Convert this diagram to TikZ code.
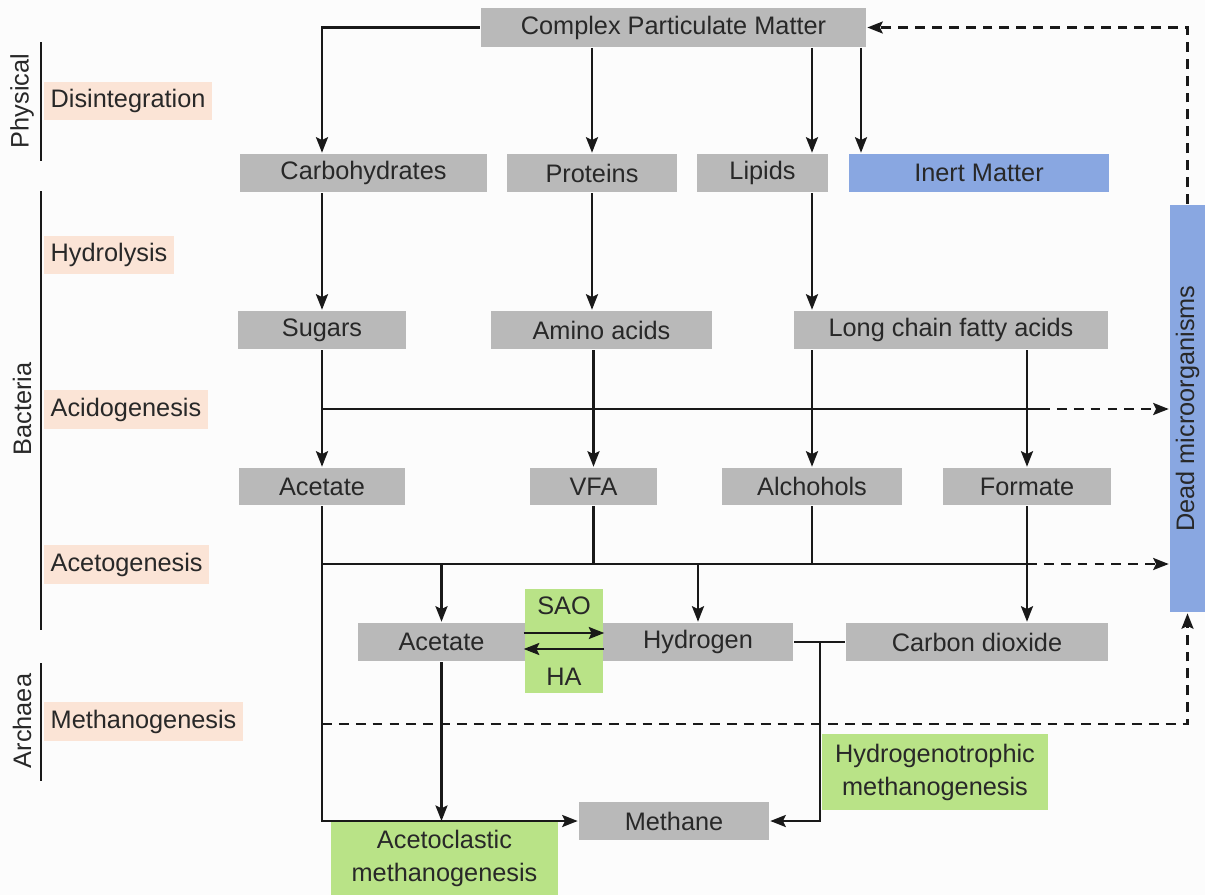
\documentclass[tikz,border=0pt]{standalone}
\usepackage[svgnames, dvipsnames]{xcolor}
\usepackage{fontspec}
\setmainfont{Liberation Sans}
\usetikzlibrary{calc, arrows.meta, positioning}

\definecolor{pagewhite}{RGB}{252,252,252}
\definecolor{boxgray}{RGB}{185,185,185}
\definecolor{inertblue}{RGB}{137,167,225}
\definecolor{stagepink}{RGB}{251,228,214}
\definecolor{routegreen}{RGB}{185,227,135}
\definecolor{inktext}{RGB}{40,40,40}

\begin{document}
\begin{tikzpicture}[x=0.025cm, y=-0.025cm, line width=1.8pt, draw=black!90,
  every node/.style={font=\fontsize{18}{23.5}\selectfont, text=inktext},
  box/.style={fill=boxgray, minimum height=0.95cm, inner sep=0pt},
  route/.style={fill=routegreen, align=center, inner sep=0pt},
  stage/.style={fill=stagepink, anchor=west, inner xsep=0.16cm, minimum height=0.97cm},
  group/.style={rotate=90},
  arr/.style={-{Stealth[length=11pt,width=8.5pt,inset=2pt]}},
  dashline/.style={dashed, dash pattern=on 7pt off 5pt}]
\fill[pagewhite] (0,0) rectangle (1205,895);
\useasboundingbox (0,0) rectangle (1205,895);

\node[box, minimum width=9.625cm] (cpm) at (673.5,27.5) {Complex Particulate Matter};
\node[box, minimum width=6.175cm] (carb) at (363.5,173) {Carbohydrates};
\node[box, minimum width=4.25cm] (prot) at (592,173) {Proteins};
\node[box, minimum width=3.275cm] (lip) at (762.5,173) {Lipids};
\node[box, fill=inertblue, minimum width=6.5cm] (inert) at (979,173) {Inert Matter};
\node[box, fill=inertblue, minimum width=0.875cm, minimum height=10.175cm] (dead) at (1187.5,408.5) {\rotatebox{90}{Dead microorganisms}};
\node[box, minimum width=4.2cm] (sug) at (322,330) {Sugars};
\node[box, minimum width=5.525cm] (amino) at (601.5,330) {Amino acids};
\node[box, minimum width=7.85cm] (lcfa) at (951,330) {Long chain fatty acids};
\node[box, minimum width=4.15cm, minimum height=0.925cm] (acet) at (322,486.5) {Acetate};
\node[box, minimum width=3.175cm, minimum height=0.925cm] (vfa) at (593.5,486.5) {VFA};
\node[box, minimum width=4.5cm, minimum height=0.925cm] (alc) at (812,486.5) {Alchohols};
\node[box, minimum width=4.175cm, minimum height=0.925cm] (form) at (1027,486.5) {Formate};
\node[route, minimum width=1.95cm, minimum height=2.6cm] (sao) at (564,641) {SAO\\[0.95cm]HA};
\node[box, minimum width=4.175cm] (acetb) at (441.5,642) {Acetate};
\node[box, minimum width=4.75cm] (hyd) at (698,642) {Hydrogen};
\node[box, minimum width=6.55cm] (cdo) at (977,642) {Carbon dioxide};
\node[box, minimum width=4.75cm] (meth) at (674,821) {Methane};
\node[route, minimum width=5.675cm, minimum height=1.825cm] (acm) at (444.5,858.5) {Acetoclastic\\methanogenesis};
\node[route, minimum width=5.65cm, minimum height=1.9cm] (hym) at (935,772) {Hydrogenotrophic\\methanogenesis};

\node[stage] (disint) at (43,101) {Disintegration};
\node[stage] (hydro) at (43,255) {Hydrolysis};
\node[stage] (acido) at (43,409.5) {Acidogenesis};
\node[stage] (aceto) at (43,564.5) {Acetogenesis};
\node[stage] (methano) at (43,721.5) {Methanogenesis};
\node[group] (phys) at (22,101) {Physical};
\node[group] (bact) at (22,409) {Bacteria};
\node[group] (arch) at (22,721) {Archaea};
\foreach \a/\b in {42/161, 191/630, 663/781}
  \draw (41,\a) -- (41,\b);

\coordinate (inertcol) at (861,100);
\coordinate (acidL) at (322,409);
\coordinate (acidR) at (1040,409);
\coordinate (acetoL) at (322,564);
\coordinate (acetoR) at (1027,564);
\coordinate (hydj) at (820,642);
\coordinate (methL) at (322,724);

\draw[arr] (cpm.west) -| (carb.north -| sug);
\draw[arr] (cpm.south -| prot) -- (prot);
\draw[arr] (cpm.south -| alc) -- (lip.north -| alc);
\draw[arr] (cpm.south -| inertcol) -- (inert.north -| inertcol);
\draw[arr, dashline] (dead.north) |- (cpm.east);
\draw[arr] (carb.south -| sug) -- (sug);
\draw[arr] (prot) -- (amino.north -| prot);
\draw[arr] (lip.south -| alc) -- (lcfa.north -| alc);
\draw[arr] (sug) -- (acet);
\draw[arr] (amino.south -| vfa) -- (vfa);
\draw[arr] (lcfa.south -| alc) -- (alc);
\draw[arr] (lcfa.south -| form) -- (form);
\draw (acidL) -- (acidR);
\draw[arr, dashline] (acidR) -- (acidR -| dead.west);
\draw (acet) -- (acetoL) -- (acetoR);
\draw[arr, dashline] (acetoR) -- (acetoR -| dead.west);
\draw (vfa) -- (vfa |- acetoL);
\draw (alc) -- (alc |- acetoL);
\draw[arr] (form) -- (cdo.north -| form);
\draw[arr] (acetoL -| acetb) -- (acetb);
\draw[arr] (acetoL -| hyd) -- (hyd);
\draw[arr] ($(sao.west)+(0,-8)$) -- ($(sao.east)+(0,-8)$);
\draw[arr] ($(sao.east)+(0,8)$) -- ($(sao.west)+(0,8)$);
\draw[arr] (acetoL) |- (meth.west);
\draw[arr] (acetb) -- (acetb |- meth.west);
\draw (hyd) -- (cdo);
\draw[arr] (hydj) |- (meth.east);
\draw[arr, dashline] (methL) -| (dead.south);
\end{tikzpicture}
\end{document}
